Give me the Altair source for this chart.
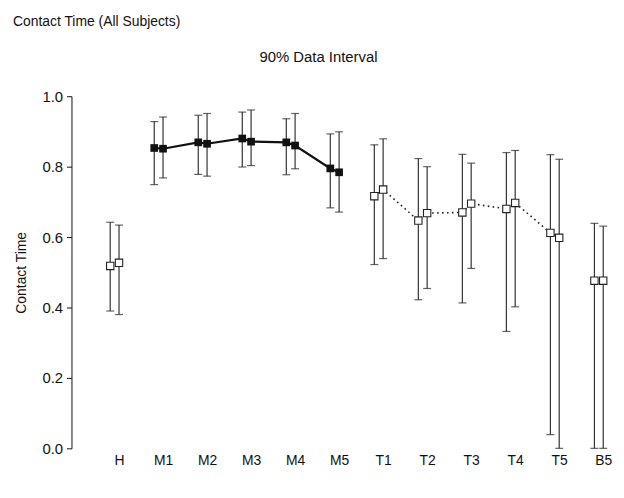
import altair as alt
import pandas as pd

categories = ["H", "M1", "M2", "M3", "M4", "M5", "T1", "T2", "T3", "T4", "T5", "B5"]
groups = ["H", "M", "M", "M", "M", "M", "T", "T", "T", "T", "T", "B"]

mean_a = [0.518, 0.853, 0.869, 0.880, 0.869, 0.795, 0.716, 0.647, 0.670, 0.680, 0.612, 0.476]
lo_a = [0.390, 0.749, 0.778, 0.799, 0.777, 0.683, 0.522, 0.422, 0.413, 0.332, 0.039, 0.000]
hi_a = [0.642, 0.928, 0.946, 0.955, 0.936, 0.893, 0.862, 0.823, 0.835, 0.840, 0.834, 0.639]

mean_b = [0.527, 0.851, 0.865, 0.871, 0.860, 0.784, 0.735, 0.668, 0.695, 0.697, 0.598, 0.476]
lo_b = [0.380, 0.768, 0.773, 0.803, 0.794, 0.671, 0.539, 0.454, 0.511, 0.402, 0.000, 0.000]
hi_b = [0.634, 0.941, 0.951, 0.961, 0.951, 0.899, 0.879, 0.800, 0.810, 0.846, 0.821, 0.631]

y_ticks = [0.0, 0.2, 0.4, 0.6, 0.8, 1.0]

rows = []
for i, c in enumerate(categories):
    rows.append(dict(cat=c, grp=groups[i], x=i - 0.2, v=mean_a[i], lo=lo_a[i], hi=hi_a[i]))
    rows.append(dict(cat=c, grp=groups[i], x=i + 0.0, v=mean_b[i], lo=lo_b[i], hi=hi_b[i]))
df = pd.DataFrame(rows)

FONT = "Liberation Sans"
label_expr = "[" + ",".join(f"'{c}'" for c in categories) + "][datum.value]"

xscale = alt.Scale(domain=[-1.08, 11.2], nice=False, zero=False)
yscale = alt.Scale(domain=[0, 1], nice=False)

xenc = alt.X("x:Q", scale=xscale,
             axis=alt.Axis(values=list(range(len(categories))), labelExpr=label_expr,
                           domain=False, ticks=False, grid=False, labelFontSize=14,
                           labelFont=FONT, labelColor="#111", labelPadding=5, title=None))
yenc = alt.Y("v:Q", scale=yscale,
             axis=alt.Axis(values=y_ticks, format=".1f", grid=False, tickSize=5,
                           domainColor="#111", tickColor="#111", labelFontSize=15,
                           labelFont=FONT, labelColor="#111", labelPadding=4,
                           title="Contact Time", titleFont=FONT, titleFontSize=14,
                           titleFontWeight="normal", titleColor="#111", titlePadding=14))

base = alt.Chart(df)

rules = base.mark_rule(color="#333", strokeWidth=1.2).encode(
    x=xenc, y=alt.Y("lo:Q", scale=yscale), y2="hi:Q")
cap_lo = base.mark_tick(orient="horizontal", color="#222", size=8, thickness=1.2).encode(
    x="x:Q", y=alt.Y("lo:Q", scale=yscale))
cap_hi = base.mark_tick(orient="horizontal", color="#222", size=8, thickness=1.2).encode(
    x="x:Q", y=alt.Y("hi:Q", scale=yscale))

line_m = base.transform_filter(alt.datum.grp == "M").mark_line(
    color="#111", strokeWidth=2.2).encode(x="x:Q", y=yenc, order="x:Q")
line_t = base.transform_filter(alt.datum.grp == "T").mark_line(
    color="#222", strokeWidth=1.6, strokeDash=[1.6, 3.4]).encode(x="x:Q", y=yenc, order="x:Q")

pts_filled = base.transform_filter(alt.datum.grp == "M").mark_square(
    size=60, color="#111", opacity=1).encode(x="x:Q", y=yenc)
pts_open = base.transform_filter(alt.datum.grp != "M").mark_square(
    size=55, filled=True, fill="white", stroke="#222", strokeWidth=1.1, opacity=1).encode(x="x:Q", y=yenc)

title_main = alt.Chart(pd.DataFrame({"t": ["Contact Time (All Subjects)"]})).mark_text(
    align="left", baseline="middle", font=FONT, fontSize=14, color="#111").encode(
    text="t:N", x=alt.value(-59), y=alt.value(-75))
title_sub = alt.Chart(pd.DataFrame({"t": ["90% Data Interval"]})).mark_text(
    align="center", baseline="middle", font=FONT, fontSize=15, color="#111").encode(
    text="t:N", x=alt.value(249), y=alt.value(-40))

chart = alt.layer(rules, cap_lo, cap_hi, line_m, line_t, pts_filled, pts_open,
                  title_main, title_sub).properties(
    width=545, height=355,
    autosize=alt.AutoSizeParams(type="none"),
    padding={"left": 64, "top": 87, "right": 4, "bottom": 35},
    background="white",
).configure_view(stroke=None)

chart.save("out.html", embed_options={"renderer": "svg", "actions": False})
